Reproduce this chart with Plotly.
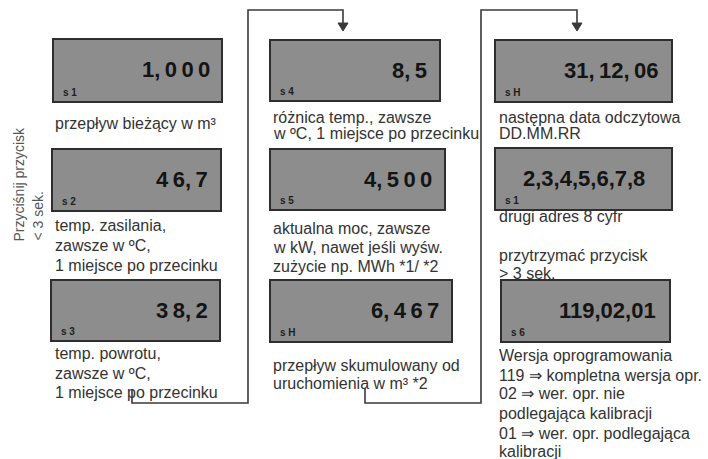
import plotly.graph_objects as go

W, H = 708, 459
TS = "\u2009"  # thin space used between LCD digits

# ---- content (values shown on the LCD displays) ----
display_values = [
    f"1,{TS}0{TS}0{TS}0", f"4{TS}6,{TS}7", f"3{TS}8,{TS}2",
    f"8,{TS}5", f"4,{TS}5{TS}0{TS}0", f"6,{TS}4{TS}6{TS}7",
    f"31,{TS}12,{TS}06", "2,3,4,5,6,7,8", "119,02,01",
]
display_labels = ["s 1", "s 2", "s 3", "s 4", "s 5", "s H", "s H", "s 1", "s 6"]

desc_text = [
    "przepływ bieżący w m³",
    "temp. zasilania,", "zawsze w ºC,", "1 miejsce po przecinku",
    "temp. powrotu,", "zawsze w ºC,", "1 miejsce po przecinku",
    "różnica temp., zawsze", "w ºC, 1 miejsce po przecinku",
    "aktualna moc, zawsze", "w kW, nawet jeśli wyśw.", "zużycie np. MWh *1/ *2",
    "przepływ skumulowany od", "uruchomienia w m³ *2",
    "następna data odczytowa", "DD.MM.RR",
    "drugi adres 8 cyfr",
    "przytrzymać przycisk", "> 3 sek.",
    "Wersja oprogramowania", "119 ⇒ kompletna wersja opr.", "02 ⇒ wer. opr. nie",
    "podlegająca kalibracji", "01 ⇒ wer. opr. podlegająca", "kalibracji",
]
side_text = ["Przyciśnij przycisk", "< 3 sek."]

# ---- layout geometry (diagram coordinates, y grows downward) ----
box_x0 = [53, 52, 51, 270, 270, 270, 495, 495, 501]
box_x1 = [222, 221, 220, 440, 445, 452, 672, 672, 670]
box_y0 = [39, 149, 280, 40, 149, 280, 40, 148, 280]
box_y1 = [102, 211, 341, 101, 210, 342, 102, 210, 342]
value_pad = [10, 11, 10, 11, 11, 11, 12, 25, 12]

desc_x = [53] * 7 + [271] * 7 + [497] * 11
desc_y = [123, 225, 245, 265, 353, 373, 392,
          117, 133, 228, 247, 266, 365, 383,
          117, 133, 216, 255, 273, 355, 375, 393, 413, 433, 451]
side_x = [18, 37]
side_y = [244, 243]

connectors = [
    [(132, 390), (132, 403), (248, 403), (248, 10), (343, 10), (343, 24)],
    [(365, 388), (365, 403), (481, 403), (481, 10), (577, 10), (577, 24)],
]

FONT = "Liberation Sans, Arial, sans-serif"
TXT = "#333333"
LINE = "#3a3a3a"

fig = go.Figure()
fig.add_trace(go.Scatter(x=[0, W], y=[0, H], mode="markers",
                         marker=dict(opacity=0), hoverinfo="skip", showlegend=False))

shapes = []
annotations = []

# displays
for i in range(len(display_values)):
    shapes.append(dict(type="rect", xref="x", yref="y",
                       x0=box_x0[i], x1=box_x1[i], y0=box_y0[i], y1=box_y1[i],
                       fillcolor="#8d8d8d", line=dict(color="#2e2e2e", width=2), layer="above"))
    annotations.append(dict(x=box_x1[i] - value_pad[i], y=box_y0[i] + 30, xref="x", yref="y",
                            text=f"<b>{display_values[i]}</b>", showarrow=False,
                            xanchor="right", yanchor="middle",
                            font=dict(family=FONT, size=22, color="#141414")))
    annotations.append(dict(x=box_x0[i] + 8, y=box_y1[i] - 10, xref="x", yref="y",
                            text=f"<b>{display_labels[i]}</b>", showarrow=False,
                            xanchor="left", yanchor="middle",
                            font=dict(family=FONT, size=10, color="#1e1e1e")))

# connector lines with arrow heads
for pts in connectors:
    path = "M " + " L ".join(f"{x} {y}" for x, y in pts)
    shapes.append(dict(type="path", xref="x", yref="y", path=path,
                       line=dict(color=LINE, width=1.6)))
    ax, ay = pts[-1]
    shapes.append(dict(type="path", xref="x", yref="y",
                       path=f"M {ax-5} {ay-1} L {ax+5} {ay-1} L {ax} {ay+7} Z",
                       fillcolor=LINE, line=dict(color=LINE, width=1)))

# descriptions
for t, x, y in zip(desc_text, desc_x, desc_y):
    annotations.append(dict(x=x, y=y, xref="x", yref="y", text=t, showarrow=False,
                            xanchor="left", yanchor="middle",
                            font=dict(family=FONT, size=16, color=TXT)))

# rotated side note
for t, x, y in zip(side_text, side_x, side_y):
    annotations.append(dict(x=x, y=y, xref="x", yref="y", text=t, showarrow=False,
                            textangle=-90, xanchor="center", yanchor="bottom",
                            font=dict(family=FONT, size=14, color="#555555")))

fig.update_layout(
    width=W, height=H, margin=dict(l=0, r=0, t=0, b=0),
    paper_bgcolor="white", plot_bgcolor="white",
    xaxis=dict(range=[0, W], visible=False, fixedrange=True),
    yaxis=dict(range=[H, 0], visible=False, fixedrange=True),
    shapes=shapes, annotations=annotations, showlegend=False,
)
fig.write_html("out.html", config={"displayModeBar": False})

# remove the browser's default page margin so the figure fills the window
with open("out.html", encoding="utf-8") as f:
    html = f.read()
html = html.replace("<head>", "<head><style>html,body{margin:0;padding:0;overflow:hidden;}</style>", 1)
with open("out.html", "w", encoding="utf-8") as f:
    f.write(html)
